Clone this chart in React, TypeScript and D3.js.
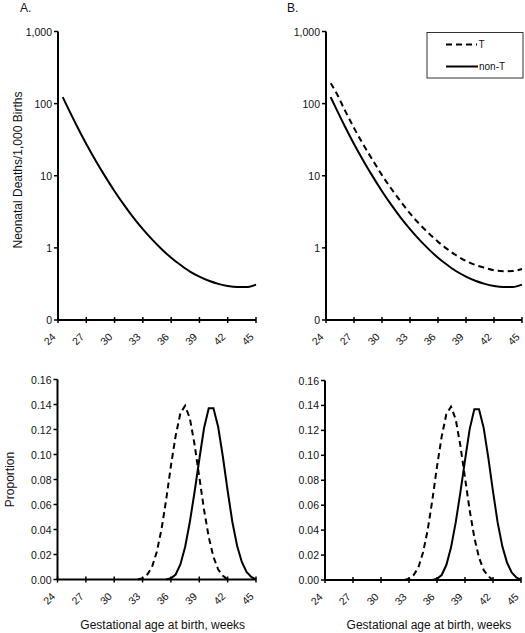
import React from "react";
import * as d3 from "d3";

// ---- data ----
const xTickWeeks = [24, 27, 30, 33, 36, 39, 42, 45];
const rateTicks = [0.1, 1, 10, 100, 1000];
const rateTickLabels = ["0", "1", "10", "100", "1,000"];
const propTicks = [0, 0.02, 0.04, 0.06, 0.08, 0.1, 0.12, 0.14, 0.16];

const rateWeeks = [24.5, 25, 26, 27, 28, 29, 30, 31, 32, 33, 34, 35, 36, 37, 38, 39, 40, 41, 42, 43, 44, 45];
const rateNonT = [123, 90, 49, 27.6, 16.2, 9.8, 6.1, 3.94, 2.63, 1.82, 1.3, 0.96, 0.73, 0.58, 0.47, 0.4, 0.35, 0.317, 0.296, 0.286, 0.287, 0.31];
const rateT = [192, 150, 82, 46, 27, 16.5, 10.2, 6.6, 4.4, 3.0, 2.15, 1.6, 1.22, 0.96, 0.78, 0.66, 0.58, 0.53, 0.49, 0.475, 0.478, 0.51];

const propWeeks = [32.5, 33, 33.5, 34, 34.5, 35, 35.5, 36, 36.5, 37, 37.5, 38, 38.5, 39, 39.5, 40, 40.5, 41, 41.5, 42, 42.5, 43, 43.5, 44, 44.5, 45];
const propT = [0, 0.001, 0.004, 0.01, 0.022, 0.04, 0.064, 0.091, 0.115, 0.133, 0.139, 0.129, 0.108, 0.082, 0.056, 0.034, 0.018, 0.008, 0.003, 0, 0, 0, 0, 0, 0, 0];
const propNonT = [0, 0, 0, 0, 0, 0, 0, 0.001, 0.004, 0.012, 0.026, 0.046, 0.07, 0.096, 0.121, 0.137, 0.137, 0.122, 0.098, 0.071, 0.046, 0.027, 0.014, 0.006, 0.002, 0];

const seriesLabels = ["T", "non-T"];

const FONT = "'Liberation Sans', Arial, Helvetica, sans-serif";
const DASH = "6,4";

type Pt = [number, number];

function zip(xs: number[], ys: number[]): Pt[] {
  return xs.map((x, i) => [x, ys[i]] as Pt);
}
function trimZeros(pts: Pt[]): Pt[] {
  let a = pts.findIndex((p) => p[1] > 0);
  let b = pts.length - 1 - [...pts].reverse().findIndex((p) => p[1] > 0);
  a = Math.max(0, a - 1);
  b = Math.min(pts.length - 1, b + 1);
  return pts.slice(a, b + 1);
}

function XAxis({ x, y0 }: { x: d3.ScaleLinear<number, number>; y0: number }) {
  const [r0, r1] = x.range();
  return (
    <g>
      <line x1={r0} x2={r1} y1={y0} y2={y0} stroke="#000" strokeWidth={2} />
      {xTickWeeks.map((w) => (
        <g key={w}>
          <line x1={x(w)} x2={x(w)} y1={y0 - 3} y2={y0 + 3} stroke="#000" strokeWidth={1.5} />
          <text
            transform={`translate(${x(w) - 1.5},${y0 + 17.5}) rotate(-45)`}
            textAnchor="end"
            fontSize={10.5}
            fontFamily={FONT}
            fill="#111"
          >
            {w}
          </text>
        </g>
      ))}
    </g>
  );
}

function TopPanel({ x0, x1, withT, letter, letterX, showYTitle, showLegend }: any) {
  const x = d3.scaleLinear().domain([24, 45]).range([x0, x1]);
  const y = d3.scaleLog().domain([0.1, 1000]).range([320, 31.5]);
  const line = d3
    .line<Pt>()
    .x((d) => x(d[0]))
    .y((d) => y(d[1]))
    .curve(d3.curveMonotoneX);
  return (
    <g>
      <text x={letterX} y={12} fontSize={12} fontFamily={FONT} fill="#111">{letter}</text>
      {showYTitle && (
        <text
          transform={`translate(22,170) rotate(-90)`}
          textAnchor="middle"
          fontSize={12}
          fontFamily={FONT}
          fill="#111"
        >
          Neonatal Deaths/1,000 Births
        </text>
      )}
      <line x1={x0} x2={x0} y1={31.5} y2={320} stroke="#000" strokeWidth={2} />
      {rateTicks.map((t, i) => (
        <g key={t}>
          <line x1={x0 - 4} x2={x0} y1={y(t)} y2={y(t)} stroke="#000" strokeWidth={1.5} />
          <text x={x0 - 6} y={y(t) + 4} textAnchor="end" fontSize={10.5} fontFamily={FONT} fill="#111">
            {rateTickLabels[i]}
          </text>
        </g>
      ))}
      <XAxis x={x} y0={320} />
      {withT && (
        <path d={line(zip(rateWeeks, rateT)) || ""} fill="none" stroke="#000" strokeWidth={2} strokeDasharray={DASH} />
      )}
      <path d={line(zip(rateWeeks, rateNonT)) || ""} fill="none" stroke="#000" strokeWidth={2} />
      {showLegend && (
        <g>
          <rect x={427} y={32.5} width={96} height={45.5} fill="#fff" stroke="#333" strokeWidth={1} />
          <line x1={446} x2={477} y1={44.5} y2={44.5} stroke="#000" strokeWidth={2} strokeDasharray={DASH} />
          <text x={478.5} y={48} fontSize={10} fontFamily={FONT} fill="#111">{seriesLabels[0]}</text>
          <line x1={446} x2={478} y1={66.5} y2={66.5} stroke="#000" strokeWidth={2} />
          <text x={479} y={70} fontSize={10} fontFamily={FONT} fill="#111">{seriesLabels[1]}</text>
        </g>
      )}
    </g>
  );
}

function BottomPanel({ x0, x1, yTop, yBot, showYTitle }: any) {
  const x = d3.scaleLinear().domain([24, 45]).range([x0, x1]);
  const y = d3.scaleLinear().domain([0, 0.16]).range([yBot, yTop]);
  const line = d3
    .line<Pt>()
    .x((d) => x(d[0]))
    .y((d) => y(d[1]));
  return (
    <g>
      {showYTitle && (
        <text
          transform={`translate(14,${(yTop + yBot) / 2}) rotate(-90)`}
          textAnchor="middle"
          fontSize={12}
          fontFamily={FONT}
          fill="#111"
        >
          Proportion
        </text>
      )}
      <line x1={x0} x2={x0} y1={yTop} y2={yBot} stroke="#000" strokeWidth={2} />
      {propTicks.map((t) => (
        <g key={t}>
          <line x1={x0 - 4} x2={x0} y1={y(t)} y2={y(t)} stroke="#000" strokeWidth={1.5} />
          <text x={x0 - 6} y={y(t) + 4} textAnchor="end" fontSize={10.5} fontFamily={FONT} fill="#111">
            {t.toFixed(2)}
          </text>
        </g>
      ))}
      <XAxis x={x} y0={yBot} />
      <path d={line(trimZeros(zip(propWeeks, propT))) || ""} fill="none" stroke="#000" strokeWidth={2} strokeDasharray={DASH} />
      <path d={line(trimZeros(zip(propWeeks, propNonT))) || ""} fill="none" stroke="#000" strokeWidth={2} />
      <text x={(x0 + x1) / 2 + 6} y={629} textAnchor="middle" fontSize={12} fontFamily={FONT} fill="#111">
        Gestational age at birth, weeks
      </text>
    </g>
  );
}

export default function App() {
  return (
    <svg
      width={525}
      height={633}
      style={{ position: "absolute", left: 0, top: 0, background: "#fff" }}
    >
      <rect width={525} height={633} fill="#fff" />
      <TopPanel x0={58} x1={256} withT={false} letter="A." letterX={20} showYTitle={true} showLegend={false} />
      <TopPanel x0={326} x1={522} withT={true} letter="B." letterX={287} showYTitle={false} showLegend={true} />
      <BottomPanel x0={57.5} x1={256} yTop={379.5} yBot={579.5} showYTitle={true} />
      <BottomPanel x0={325} x1={521} yTop={380.5} yBot={580} showYTitle={false} />
    </svg>
  );
}
